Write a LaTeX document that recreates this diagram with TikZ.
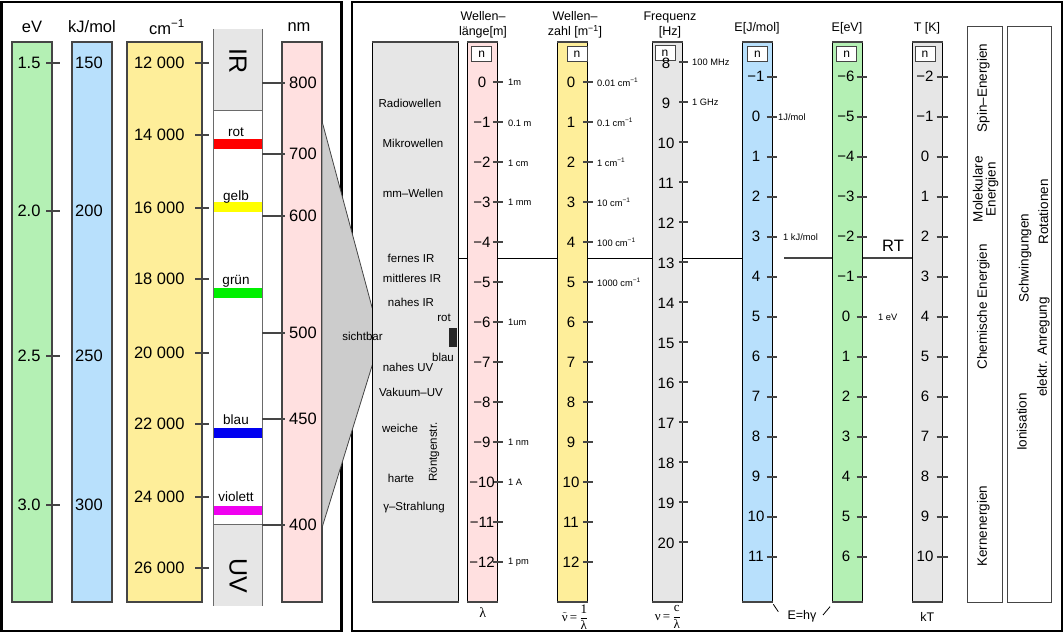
\documentclass[tikz,border=0pt]{standalone}
\usepackage{fontspec}
\setmainfont{Liberation Sans}
\newfontfamily\serif{Liberation Serif}
\definecolor{cgreen}{HTML}{B4F0B4}
\definecolor{cblue}{HTML}{B8E0FC}
\definecolor{cyellow}{HTML}{FEEE9A}
\definecolor{cpink}{HTML}{FFE0E0}
\definecolor{cgray}{HTML}{E6E6E6}
\definecolor{cfun}{HTML}{CCCCCC}
\definecolor{cbord}{HTML}{454545}
\definecolor{bred}{RGB}{255,0,0}
\definecolor{byellow}{RGB}{255,255,0}
\definecolor{bgreen}{RGB}{0,240,0}
\definecolor{bblue}{RGB}{0,0,240}
\definecolor{bmag}{RGB}{240,0,240}
\newcommand\rcolumn[3]{%
  \fill[#3] (#1,42) rectangle (#2,602);
  \draw[line width=1pt] (#1,42) -- (#1,602) (#2,42) -- (#2,602);
  \draw[cbord, line width=2.5pt] (#1-0.5,42) -- (#2+0.5,42) (#1-0.5,602) -- (#2+0.5,602);}
\newcommand\sv[1]{\hbox{\serif #1}}
\begin{document}
\begin{tikzpicture}[x=1pt,y=-1pt,
  lcol/.style={draw=cbord, line width=1.5pt},
  tickl/.style={draw=cbord, line width=1.5pt},
  tickr/.style={draw=cbord, line width=2pt},
  big/.style={font=\fontsize{16.5}{18}\selectfont},
  num/.style={font=\fontsize{15}{16}\selectfont},
  small/.style={font=\fontsize{9.3}{10}\selectfont, anchor=west, inner sep=0pt},
  lab/.style={font=\fontsize{11.5}{13}\selectfont},
  band/.style={font=\fontsize{13.5}{15}\selectfont},
  hdr/.style={font=\fontsize{12.5}{15}\selectfont, align=center},
  vlab/.style={font=\fontsize{13.5}{13}\selectfont, rotate=90, align=center},
  nbox/.style={draw=cbord, fill=white, line width=0.8pt, minimum width=20pt, minimum height=15pt, inner sep=0pt, font=\fontsize{12}{12}\selectfont},
  formula/.style={font=\fontsize{13}{14}\selectfont, inner sep=0pt},
  frame/.style={line width=2.5pt}]
\useasboundingbox (0,0) rectangle (1064,634);
% frames
\draw[frame] (1.5,2) rectangle (341.5,631);
\draw[frame] (352,2) rectangle (1062,631);

% ---------- left panel ----------
\node[big] at (32,27) {eV};
\node[big] at (92,27) {kJ/mol};
\node[big] at (167,27) {cm\textsuperscript{−1}};
\node[big] at (299,27) {nm};

\draw[lcol, fill=cgreen] (12,42) rectangle (52,602);
\draw[lcol, fill=cblue] (72,42) rectangle (112,602);
\draw[lcol, fill=cyellow] (127,42) rectangle (202,602);
\draw[lcol, fill=cpink] (282,42) rectangle (322,602);

% visible column
\fill[white] (213,29) rectangle (262,606);
\fill[cgray] (213,29) rectangle (262,110);
\fill[cgray] (213,524) rectangle (262,606);
\fill[bred] (213,139) rectangle (262,149);
\fill[byellow] (213,202) rectangle (262,212);
\fill[bgreen] (213,288) rectangle (262,298);
\fill[bblue] (213,428) rectangle (262,438);
\fill[bmag] (213,506) rectangle (262,515);
\draw[draw=cbord!80, line width=0.8pt] (213,29) -- (213,606) (262,29) -- (262,606) (213,110) -- (262,110) (213,524) -- (262,524);
\node[font=\fontsize{25}{25}\selectfont, rotate=-90] at (238,61) {IR};
\node[font=\fontsize{25}{25}\selectfont, rotate=-90] at (238,576) {UV};
\node[band] at (236,132) {rot};
\node[band] at (236,197) {gelb};
\node[band] at (236,281) {grün};
\node[band] at (236,420) {blau};
\node[band] at (236,497) {violett};

\foreach \y/\e/\k in {63/1.5/150, 211/2.0/200, 356/2.5/250, 505/3.0/300} {
  \node[big] at (29,\y) {\e};
  \draw[tickl] (46,\y) -- (60,\y);
  \node[big] at (89,\y) {\k};
}
\foreach \y/\a in {63/12, 135/14, 208/16, 279/18, 353/20, 424/22, 497/24, 568/26} {
  \node[big, anchor=east] at (188,\y) {\a\ 000};
  \draw[tickl] (195,\y) -- (209,\y);
}
\foreach \y/\a in {83/800, 154/700, 216/600, 333/500, 419/450, 525/400} {
  \draw[tickl] (262,\y) -- (285,\y);
  \node[big] at (303,\y) {\a};
}

% funnel
\fill[cfun] (322.3,122.3) -- (372.3,308.3) -- (372.3,365) -- (322.3,526.7) -- cycle;
\draw[cbord, line width=0.8pt] (322.3,122.3) -- (372.3,308.3) (372.3,365) -- (322.3,526.7);

% ---------- right panel ----------
\draw[line width=1pt] (458,258.3) -- (742,258.3);
\draw[cbord, line width=2pt] (784,257.7) -- (832,257.7) (862,257.7) -- (912,257.7);
\node[font=\fontsize{16.5}{18}\selectfont] at (893,246) {RT};

\rcolumn{372}{458}{cgray}
\rcolumn{467.7}{497.3}{cpink}
\rcolumn{557.7}{587.3}{cyellow}
\rcolumn{652.3}{682.7}{cgray}
\rcolumn{742.3}{772.7}{cblue}
\rcolumn{832.7}{862.3}{cgreen}
\rcolumn{912.7}{942.3}{cgray}

\node[hdr] at (483,25) {Wellen–\\länge[m]};
\node[hdr] at (575,25) {Wellen–\\zahl [m\textsuperscript{−1}]};
\node[hdr] at (670,25) {Frequenz\\{[Hz]}};
\node[hdr] at (757,28) {E[J/mol]};
\node[hdr] at (847,28) {E[eV]};
\node[hdr] at (927,28) {T [K]};

\node[nbox] at (481.7,54) {n};
\node[nbox] at (577,54) {n};
\node[nbox] at (665,53) {n};
\node[nbox] at (757.5,54) {n};
\node[nbox] at (846.7,54) {n};
\node[nbox] at (925,54) {n};

% lambda
\foreach \k in {0,...,12} {
  \draw[tickr] (493,{82+40*\k}) -- (503,{82+40*\k});
  \node[num] at (482,{82+40*\k}) {\ifnum\k=0 0\else −\k\fi};
}
% wavenumber
\foreach \k in {0,...,12} {
  \draw[tickr] (583,{82+40*\k}) -- (593,{82+40*\k});
  \node[num] at (571,{82+40*\k}) {\k};
}
% frequency
\foreach \k in {8,...,20} {
  \draw[tickr] (679,{62+40*(\k-8)}) -- (688,{62+40*(\k-8)});
  \node[num] at (666,{63+40*(\k-8)}) {\k};
}
% J/mol
\foreach \k in {-1,...,11} {
  \draw[tickr] (766.7,{116.7+40*\k}) -- (777.3,{116.7+40*\k});
  \node[num] at (756,{116.7+40*\k}) {\ifnum\k<0 −\number-\k\else\k\fi};
}
% eV
\foreach \k in {-6,...,6} {
  \draw[tickr] (856.7,{316.7+40*\k}) -- (867,{316.7+40*\k});
  \node[num] at (846,{316.7+40*\k}) {\ifnum\k<0 −\number-\k\else\k\fi};
}
% T
\foreach \k in {-2,...,10} {
  \draw[tickr] (936.7,{156.7+40*\k}) -- (948.3,{156.7+40*\k});
  \node[num] at (925,{156.7+40*\k}) {\ifnum\k<0 −\number-\k\else\k\fi};
}

% side labels
\node[small] at (508,82) {1m};
\node[small] at (508,123) {0.1 m};
\node[small] at (508,163) {1 cm};
\node[small] at (508,202) {1 mm};
\node[small] at (508,322) {1um};
\node[small] at (508,442) {1 nm};
\node[small] at (508,482) {1 A};
\node[small] at (508,562) {1 pm};
\node[small] at (597,82) {0.01 cm\textsuperscript{−1}};
\node[small] at (597,122) {0.1 cm\textsuperscript{−1}};
\node[small] at (597,162) {1 cm\textsuperscript{−1}};
\node[small] at (597,202) {10 cm\textsuperscript{−1}};
\node[small] at (597,242) {100 cm\textsuperscript{−1}};
\node[small] at (597,282) {1000 cm\textsuperscript{−1}};
\node[small] at (692,62) {100 MHz};
\node[small] at (692,102) {1 GHz};
\node[small] at (778,117) {1J/mol};
\node[small] at (783,237) {1 kJ/mol};
\node[small] at (878,317) {1 eV};

% spectrum names
\node[lab] at (410,103) {Radiowellen};
\node[lab] at (413,143) {Mikrowellen};
\node[lab] at (413,193) {mm–Wellen};
\node[lab] at (411,258) {fernes IR};
\node[lab] at (412,278) {mittleres IR};
\node[lab] at (411,302) {nahes IR};
\node[lab] at (444,318) {rot};
\fill[black!85] (449.3,328.3) rectangle (457.3,347.3);
\node[lab] at (443,357) {blau};
\node[lab] at (408,367) {nahes UV};
\node[lab] at (411,392) {Vakuum–UV};
\node[lab] at (400,428) {weiche};
\node[lab] at (401,478) {harte};
\node[lab, rotate=90] at (434,452) {Röntgenstr.};
\node[lab] at (414,508) {γ–Strahlung};
\node[lab] at (362.5,336) {sichtbar};

% right boxes
\draw[draw=cbord, line width=0.8pt] (967.7,26) rectangle (1002.3,602);
\draw[draw=cbord, line width=0.8pt] (1007.3,26) rectangle (1051.7,602);
\node[vlab] at (983.3,88) {Spin–Energien};
\node[vlab] at (985.5,189) {Molekulare\\Energien};
\node[vlab] at (983.3,307) {Chemische Energien};
\node[vlab] at (983.3,526) {Kernenergien};
\node[vlab] at (1043.3,212) {Rotationen};
\node[vlab] at (1025,258) {Schwingungen};
\node[vlab] at (1043.3,347) {elektr. Anregung};
\node[vlab] at (1021.7,422) {Ionisation};

% bottom labels
\node[font=\fontsize{14}{15}\selectfont\serif] at (482.7,613) {λ};
\node[formula] at (575,617) {$\displaystyle\tilde{\sv{ν}}\sv{\,=\,}\frac{\sv{1}}{\sv{λ}}$};
\node[formula] at (668,617) {$\displaystyle\sv{ν}\sv{\,=\,}\frac{\sv{c}}{\sv{λ}}$};
\node[font=\fontsize{12.5}{14}\selectfont] (ehv) at (802,616.7) {E=hγ};
\draw[line width=0.8pt] (773.3,604.3) -- (778.3,611.7);
\draw[line width=0.8pt] (823,615) -- (830,606.7);
\node[font=\fontsize{12.5}{14}\selectfont] at (927.3,616.7) {kT};
\end{tikzpicture}
\end{document}
